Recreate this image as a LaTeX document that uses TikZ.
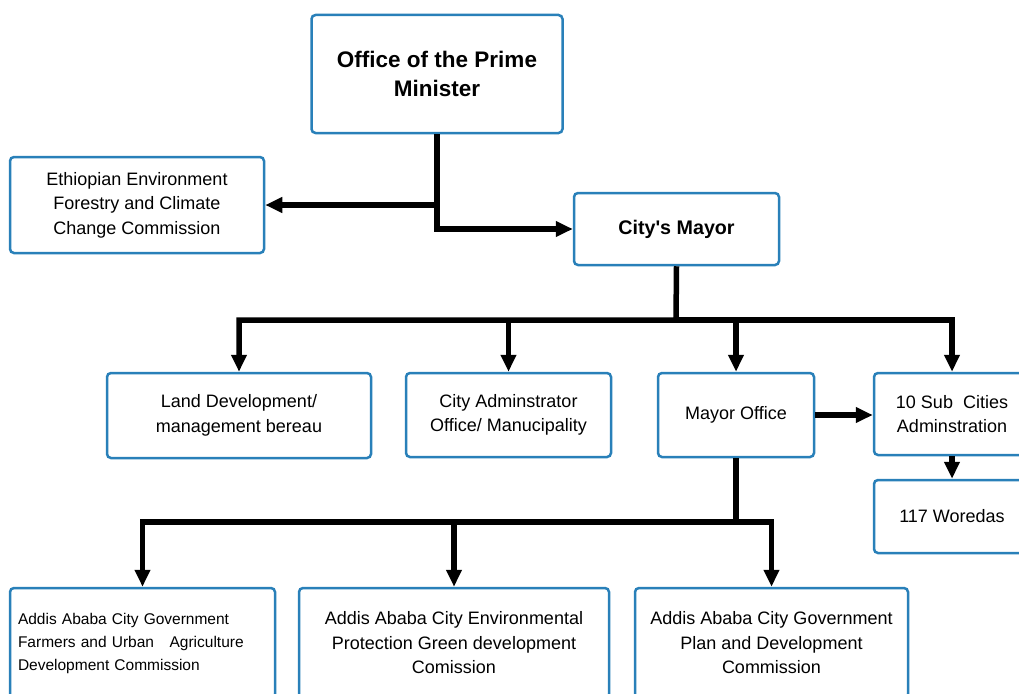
\documentclass[tikz,border=0pt]{standalone}
\usepackage{fontspec}
\setmainfont{Liberation Sans}
\usetikzlibrary{arrows.meta}
\definecolor{boxblue}{RGB}{41,128,185}

\begin{document}
\begin{tikzpicture}[x=1pt,y=-1pt,
		box/.style={draw=boxblue,line width=2.5pt,rounded corners=4pt,fill=white,align=center,inner sep=0pt,font=\fontsize{18}{24.5}\selectfont},
		bossbox/.style={box,font=\bfseries\fontsize{22.5}{29}\selectfont},
		conn/.style={line width=5.5pt,-{Triangle[length=17pt,width=15pt]}}]
		\useasboundingbox (0,0) rectangle (1019,693);
		\clip (0,0) rectangle (1019,693);
		\node[bossbox,minimum width=251pt,minimum height=118pt] (pm) at (437,74) {Office of the Prime\\Minister};
		\node[box,minimum width=254pt,minimum height=96pt] (eth) at (137,205) {Ethiopian Environment\\Forestry and Climate\\Change Commission};
		\node[bossbox,minimum width=205pt,minimum height=72pt,font=\bfseries\fontsize{19.7}{24}\selectfont] (mayor) at (676.5,229) {City\textquotesingle s Mayor};
		\node[box,minimum width=264pt,minimum height=85pt] (land) at (239,415.5) {Land Development/\\management bereau};
		\node[box,minimum width=205pt,minimum height=84pt] (cadm) at (508.5,415) {City Adminstrator\\Office/ Manucipality};
		\node[box,minimum width=156pt,minimum height=84pt] (moff) at (736,415) {Mayor Office};
		\node[box,minimum width=156pt,minimum height=82pt] (subc) at (952,414) {10 Sub~ Cities\\Adminstration};
		\node[box,minimum width=156pt,minimum height=73pt] (wor) at (952,516.5) {117 Woredas};
		\node[box,minimum width=265pt,minimum height=110pt,align=left,text width=249pt,font=\fontsize{15.5}{23}\selectfont] (farm) at (142.5,643) {Addis Ababa City Government\\Farmers and Urban~~ Agriculture\\Development Commission};
		\node[box,minimum width=310pt,minimum height=110pt] (env) at (454,643) {Addis Ababa City Environmental\\Protection Green development\\Comission};
		\node[box,minimum width=273pt,minimum height=110pt] (plan) at (771.5,643) {Addis Ababa City Government\\Plan and Development\\Commission};
		\coordinate (bar1) at (676,320);
		\coordinate (bar2) at (736,522);
		\draw[conn] (pm.south) |- (mayor.west);
		\draw[conn] (pm.south |- eth.east) -- (eth.east);
		\draw[conn] (mayor.south) -- (bar1) -| (land.north);
		\draw[conn] (bar1) -| (subc.north);
		\draw[conn] (bar1 -| cadm.north) -- (cadm.north);
		\draw[conn] (bar1 -| moff.north) -- (moff.north);
		\draw[conn] (moff.east) -- (moff.east -| subc.west);
		\draw[conn] (subc.south) -- (wor.north);
		\draw[conn] (moff.south) -- (bar2) -| (farm.north);
		\draw[conn] (bar2) -| (plan.north);
		\draw[conn] (bar2 -| env.north) -- (env.north);
	\end{tikzpicture}
\end{document}
